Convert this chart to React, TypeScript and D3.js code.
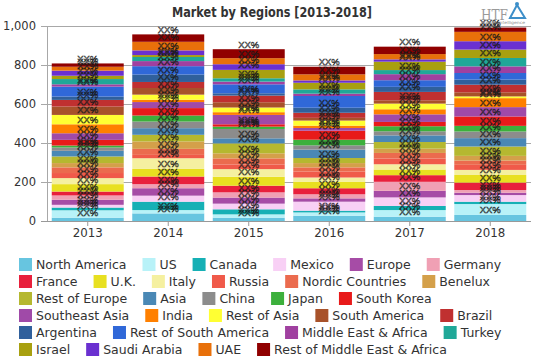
import React from 'react';
import * as d3 from 'd3';

const years = ['2013', '2014', '2015', '2016', '2017', '2018'];

const seriesNames = [
  'North America', 'US', 'Canada', 'Mexico', 'Europe', 'Germany',
  'France', 'U.K.', 'Italy', 'Russia', 'Nordic Countries', 'Benelux',
  'Rest of Europe', 'Asia', 'China', 'Japan', 'South Korea',
  'Southeast Asia', 'India', 'Rest of Asia', 'South America', 'Brazil',
  'Argentina', 'Rest of South America', 'Middle East & Africa', 'Turkey',
  'Israel', 'Saudi Arabia', 'UAE', 'Rest of Middle East & Africa',
];

const seriesColors = [
  '#67c5e0', '#b8f2f8', '#16b0b5', '#f8d0f5', '#a64ca6', '#f0a0b4',
  '#e8203c', '#e8e020', '#f5f0a0', '#f05a4a', '#eb6b4e', '#d4a04a',
  '#b5b830', '#4a88b5', '#8c8c8c', '#3cb03c', '#e81a1a',
  '#a04aa8', '#ff8000', '#ffff33', '#a8522a', '#c03030',
  '#30609c', '#3068d8', '#a040a0', '#20a898',
  '#a8a010', '#6a30d0', '#e8700a', '#900000',
];

// values per year, in series order
const v2013 = [17, 38, 14, 14, 26, 22, 20, 38, 31, 26, 29, 22, 34, 29, 17, 10, 29, 34, 46, 48, 43, 34, 17, 51, 12, 27, 17, 26, 20, 17];
const v2014 = [39, 17, 43, 31, 38, 21, 39, 39, 55, 17, 31, 38, 34, 34, 34, 31, 38, 31, 12, 26, 34, 31, 38, 43, 26, 21, 10, 24, 44, 38];
const v2015 = [17, 17, 26, 29, 31, 27, 34, 46, 39, 24, 31, 26, 51, 26, 48, 12, 12, 48, 14, 24, 27, 34, 12, 46, 14, 17, 43, 29, 31, 46];
const v2016 = [27, 17, 9, 46, 17, 21, 31, 34, 21, 31, 21, 22, 26, 43, 22, 29, 46, 14, 12, 26, 14, 26, 26, 60, 12, 22, 34, 12, 31, 39];
const v2017 = [22, 34, 21, 44, 34, 46, 34, 29, 27, 29, 29, 22, 34, 34, 21, 26, 22, 39, 26, 29, 17, 43, 26, 34, 31, 21, 43, 12, 27, 38];
const v2018 = [31, 56, 12, 34, 12, 14, 38, 39, 26, 26, 22, 24, 48, 43, 34, 29, 48, 48, 46, 9, 21, 39, 26, 34, 34, 43, 43, 43, 48, 22];

const valuesByYear = [v2013, v2014, v2015, v2016, v2017, v2018];
const yTicks = [0, 200, 400, 600, 800, 1000];
const titleText = 'Market by Regions [2013-2018]';
const labelText = 'XX%';

const W = 539;
const H = 359;

function measure(text: string, font: string): number {
  const c = document.createElement('canvas');
  const ctx = c.getContext('2d');
  if (!ctx) return text.length * 7;
  ctx.font = font;
  return ctx.measureText(text).width;
}

export default function App() {
  const x = d3.scaleBand<string>().domain(years).range([47, 531]).paddingInner(0.106).paddingOuter(0.059);
  const y = d3.scaleLinear().domain([0, 1000]).range([221, 26]);

  const table = years.map((yr, i) => {
    const row: any = { year: yr };
    seriesNames.forEach((n, j) => { row[n] = valuesByYear[i][j]; });
    return row;
  });
  const stacked = d3.stack<any>().keys(seriesNames)(table);

  // legend layout
  const legendFont = "12.5px 'DejaVu Sans'";
  const items: { name: string; color: string; x: number; row: number }[] = [];
  let cx = 19;
  let row = 0;
  seriesNames.forEach((n, i) => {
    const tw = measure(n, legendFont);
    if (cx + 17 + tw > 532 && cx > 19) { row += 1; cx = 19; }
    items.push({ name: n, color: seriesColors[i], x: cx, row });
    cx += 17 + tw + 16;
  });

  return (
    <div style={{ position: 'absolute', left: 0, top: 0 }}>
      <svg width={W} height={H} style={{ display: 'block', background: '#fff' }}>
        {/* gridlines */}
        {yTicks.map((t) => (
          <line key={'g' + t} x1={41} x2={531} y1={Math.round(y(t)) + 0.5} y2={Math.round(y(t)) + 0.5} stroke="#a8a8a8" strokeWidth={1} />
        ))}
        <line x1={47.5} x2={47.5} y1={y(1000)} y2={y(0)} stroke="#a8a8a8" />
        {/* bars */}
        {stacked.map((s, si) => (
          <g key={s.key} fill={seriesColors[si]}>
            {s.map((d, di) => (
              <rect key={di} x={x(years[di])} width={x.bandwidth()} y={y(d[1])} height={y(d[0]) - y(d[1])} />
            ))}
          </g>
        ))}
        {/* labels */}
        {stacked.map((s) => (
          <g key={'l' + s.key}>
            {s.map((d, di) => (
              <text key={di} x={(x(years[di]) as number) + x.bandwidth() / 2} y={y(d[1]) - 1.5}
                textAnchor="middle" fontFamily="'Liberation Sans', Arial, sans-serif" fontSize={9.5}
                fill="none" stroke="#1a1a1a" strokeWidth={0.45}>{labelText}</text>
            ))}
          </g>
        ))}
        {/* x axis */}
        <line x1={41} x2={531} y1={221.5} y2={221.5} stroke="#999" />
        {years.map((yr) => {
          const c = (x(yr) as number) + x.bandwidth() / 2;
          return (
            <g key={'x' + yr}>
              <line x1={c} x2={c} y1={221} y2={226} stroke="#999" />
              <text x={c} y={237} textAnchor="middle" fontFamily="'DejaVu Sans', sans-serif" fontSize={11.8} fill="#333">{yr}</text>
            </g>
          );
        })}
        {/* y axis labels */}
        {yTicks.map((t) => (
          <text key={'y' + t} x={36} y={y(t)} dy="0.36em" textAnchor="end" fontFamily="'DejaVu Sans', sans-serif" fontSize={11.5} fill="#333">
            {d3.format(',')(t)}
          </text>
        ))}
        {/* title */}
        <text x={272} y={17} textAnchor="middle" fontFamily="'DejaVu Sans Condensed', 'DejaVu Sans', sans-serif" fontWeight="bold"
          fontSize={13.5} fill="#333" textLength={200} lengthAdjust="spacingAndGlyphs">{titleText}</text>
        {/* logo */}
        <g>
          <text x={481} y={20} fontFamily="'DejaVu Serif', serif" fontSize={14} fill="#9a9a9a" textLength={27} lengthAdjust="spacingAndGlyphs">HTF</text>
          <path d="M510,18 L517,5 L525,18 Z" fill="none" stroke="#3d8fc9" strokeWidth={2} />
          <circle cx={517} cy={4} r={2} fill="#3d8fc9" />
          <text x={481} y={24} fontFamily="'DejaVu Sans', sans-serif" fontSize={4} fill="#8a8a8a" textLength={44} lengthAdjust="spacingAndGlyphs">Market Intelligence</text>
        </g>
        {/* legend */}
        {items.map((it) => {
          const cy = 264.5 + it.row * 17;
          return (
            <g key={'lg' + it.name}>
              <rect x={it.x} y={cy - 6.5} width={13} height={13} fill={it.color} />
              <text x={it.x + 17} y={cy} dy="0.36em" fontFamily="'DejaVu Sans', sans-serif" fontSize={12.5} fill="#333">{it.name}</text>
            </g>
          );
        })}
      </svg>
    </div>
  );
}
